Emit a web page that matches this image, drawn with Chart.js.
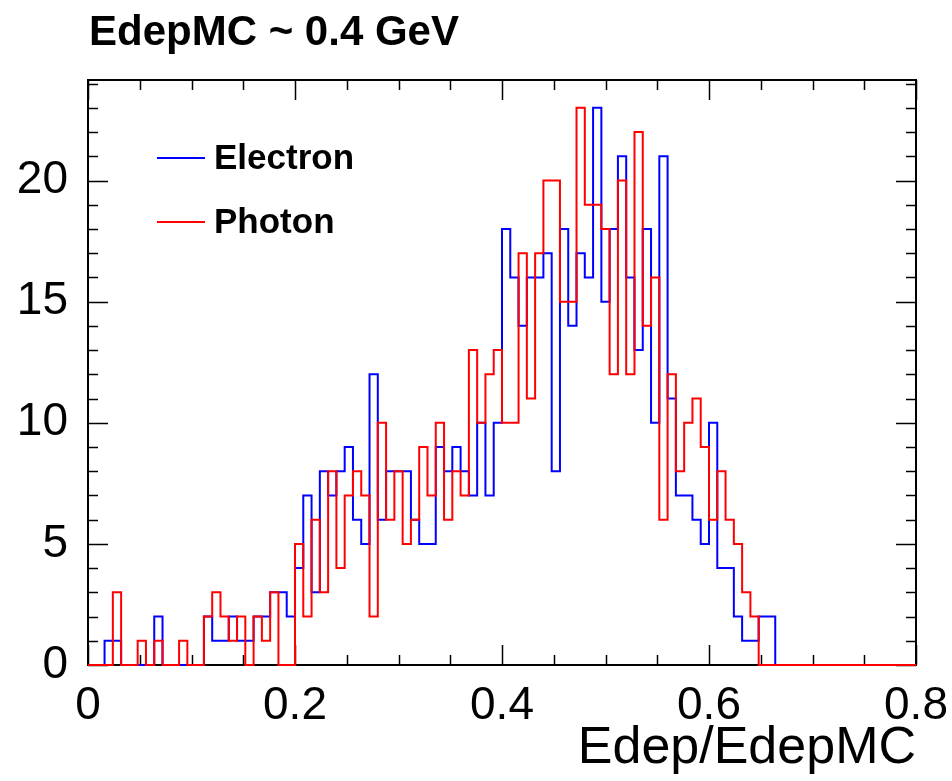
<!DOCTYPE html>
<html>
<head>
<meta charset="utf-8">
<script src="https://cdn.jsdelivr.net/npm/chart.js@4.4.0/dist/chart.umd.min.js"></script>
<style>
  html, body { margin: 0; padding: 0; background: #fff; }
  #wrap { width: 952px; height: 781px; }
</style>
</head>
<body>
<div id="wrap"><canvas id="histo" width="952" height="781"></canvas></div>
<script>
// histogram binning: 100 bins between 0 and 0.8
const xMin = 0;
const xMax = 0.8;
const nBins = 100;

// counts per bin
const electron = [
  0, 0, 1, 1, 0, 0, 0, 0, 2, 0,
  0, 0, 0, 0, 2, 1, 1, 2, 1, 1,
  2, 2, 3, 3, 2, 4, 7, 3, 8, 7,
  8, 9, 6, 5, 12, 6, 8, 8, 8, 6,
  5, 5, 9, 8, 9, 8, 7, 10, 7, 10,
  18, 16, 14, 16, 16, 17, 8, 18, 14, 17,
  16, 23, 15, 18, 21, 16, 13, 18, 10, 21,
  11, 7, 7, 6, 5, 10, 4, 4, 2, 1,
  1, 2, 2, 0, 0, 0, 0, 0, 0, 0,
  0, 0, 0, 0, 0, 0, 0, 0, 0, 0
];
const photon = [
  0, 0, 0, 3, 0, 0, 1, 0, 1, 0,
  0, 1, 0, 0, 2, 3, 2, 1, 2, 0,
  2, 1, 3, 0, 0, 5, 2, 6, 3, 8,
  4, 7, 8, 7, 2, 10, 6, 8, 5, 6,
  9, 7, 10, 6, 8, 7, 13, 10, 12, 13,
  10, 10, 17, 11, 17, 20, 20, 15, 15, 23,
  19, 19, 18, 12, 20, 12, 22, 14, 16, 6,
  12, 8, 10, 11, 9, 6, 8, 6, 5, 3,
  2, 0, 0, 0, 0, 0, 0, 0, 0, 0,
  0, 0, 0, 0, 0, 0, 0, 0, 0, 0
];

const xTicks = [0, 0.2, 0.4, 0.6, 0.8];
const yTicks = [0, 5, 10, 15, 20];
const yMax = 24.15;

const seriesNames = ['Electron', 'Photon'];
const seriesColors = ['#0000ff', '#ff0000'];

// turn counts into step points at the bin edges
function toSteps(counts) {
  const w = (xMax - xMin) / nBins;
  const pts = counts.map((c, i) => ({ x: xMin + i * w, y: c }));
  pts.push({ x: xMax, y: counts[counts.length - 1] });
  return pts;
}

const FONT = "'Liberation Sans', Arial, Helvetica, sans-serif";

// frame, inward ticks, legend and texts like a ROOT canvas
const rootLook = {
  id: 'rootLook',
  beforeDatasetsDraw(chart) {
    const ctx = chart.ctx;
    const a = chart.chartArea;
    const xs = chart.scales.x, ys = chart.scales.y;
    ctx.save();
    ctx.strokeStyle = '#000';
    ctx.lineWidth = 2;
    ctx.strokeRect(a.left, a.top, a.right - a.left, a.bottom - a.top);

    ctx.lineWidth = 1.5;
    ctx.beginPath();
    for (let k = 0; k <= 16; k++) {
      const v = k * 0.05;
      const px = Math.round(xs.getPixelForValue(v)) + 0.5;
      const len = (k % 4 === 0) ? 20 : 10;
      ctx.moveTo(px, a.bottom); ctx.lineTo(px, a.bottom - len);
      ctx.moveTo(px, a.top); ctx.lineTo(px, a.top + len);
    }
    for (let v = 0; v <= 24; v++) {
      const py = Math.round(ys.getPixelForValue(v)) + 0.5;
      const len = (v % 5 === 0) ? 20 : 10;
      ctx.moveTo(a.left, py); ctx.lineTo(a.left + len, py);
      ctx.moveTo(a.right, py); ctx.lineTo(a.right - len, py);
    }
    ctx.stroke();
    ctx.restore();
  },
  afterDraw(chart) {
    const ctx = chart.ctx;
    const a = chart.chartArea;
    ctx.save();
    // legend
    ctx.lineWidth = 2;
    ctx.font = 'bold 35px ' + FONT;
    ctx.textBaseline = 'middle';
    ctx.textAlign = 'left';
    seriesNames.forEach((name, i) => {
      const y = 158 + i * 64;
      ctx.strokeStyle = seriesColors[i];
      ctx.beginPath();
      ctx.moveTo(157, y); ctx.lineTo(205, y);
      ctx.stroke();
      ctx.fillStyle = '#000';
      ctx.fillText(name, 214, y + 1);
    });

    // title
    ctx.font = 'bold 42px ' + FONT;
    ctx.textBaseline = 'alphabetic';
    ctx.fillText('EdepMC ~ 0.4 GeV', 89, 45);

    // x axis title
    ctx.font = '52px ' + FONT;
    ctx.textAlign = 'right';
    ctx.fillText('Edep/EdepMC', a.right, 763);
    ctx.restore();
  }
};

const ctx = document.getElementById('histo').getContext('2d');
new Chart(ctx, {
  type: 'line',
  data: {
    datasets: [
      {
        label: seriesNames[0],
        data: toSteps(electron),
        borderColor: seriesColors[0],
        borderWidth: 2,
        stepped: 'before',
        pointRadius: 0,
        fill: false,
        clip: false,
        order: 1
      },
      {
        label: seriesNames[1],
        data: toSteps(photon),
        borderColor: seriesColors[1],
        borderWidth: 2,
        stepped: 'before',
        pointRadius: 0,
        fill: false,
        clip: false,
        order: 0
      }
    ]
  },
  options: {
    responsive: false,
    animation: false,
    devicePixelRatio: 1,
    layout: { padding: { left: 0, right: 36, top: 80, bottom: 0 } },
    scales: {
      x: {
        type: 'linear',
        min: xMin,
        max: xMax,
        afterFit: s => { s.height = 116; s.paddingLeft = 0; s.paddingRight = 0; },
        afterBuildTicks: s => { s.ticks = xTicks.map(v => ({ value: v })); },
        grid: { display: false, drawTicks: false },
        border: { display: false },
        ticks: {
          padding: 14,
          color: '#000',
          font: { family: FONT, size: 46 },
          maxRotation: 0,
          autoSkip: false,
          callback: v => v === 0 ? '0' : v.toFixed(1)
        }
      },
      y: {
        min: 0,
        max: yMax,
        afterFit: s => { s.width = 88; s.paddingTop = 0; s.paddingBottom = 0; },
        afterBuildTicks: s => { s.ticks = yTicks.map(v => ({ value: v })); },
        grid: { display: false, drawTicks: false },
        border: { display: false },
        ticks: {
          padding: 20,
          color: '#000',
          font: { family: FONT, size: 46 },
          autoSkip: false,
          callback: v => String(v)
        }
      }
    },
    plugins: {
      legend: { display: false },
      tooltip: { enabled: false },
      title: { display: false }
    }
  },
  plugins: [rootLook]
});
</script>
</body>
</html>
